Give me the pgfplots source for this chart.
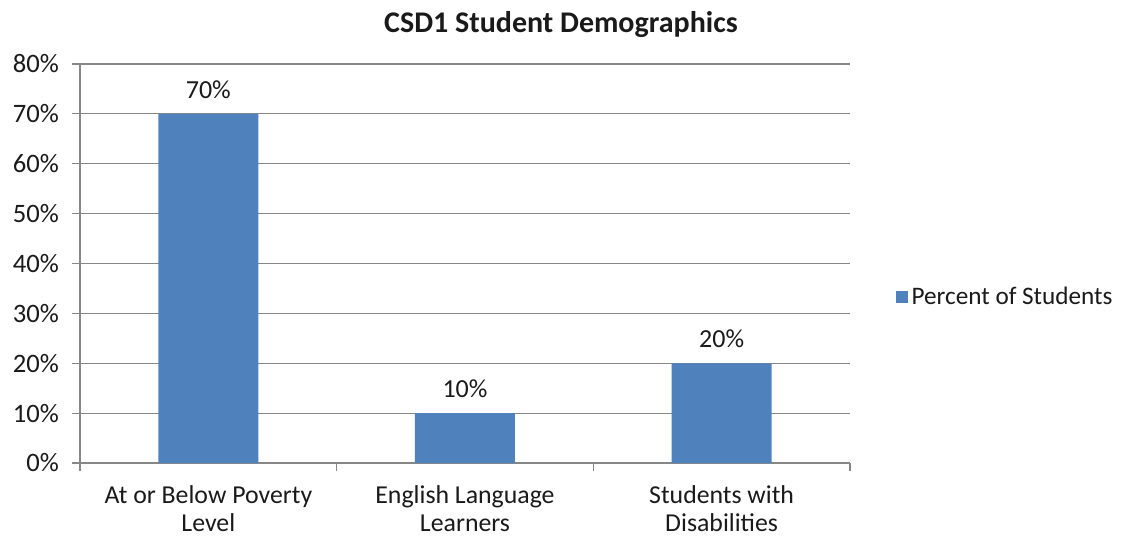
\documentclass[border=0pt]{standalone}
\usepackage{pgfplots}
\pgfplotsset{compat=1.18}
\usepackage{fontspec}
\setmainfont{Carlito}
\definecolor{barblue}{HTML}{4F81BD}
\definecolor{gridgray}{HTML}{878787}
\definecolor{txt}{HTML}{1A1A1A}
\begin{document}
\begin{tikzpicture}
\path[use as bounding box] (-40pt,-37pt) rectangle (525.5pt,231.5pt);
\begin{axis}[
  at={(0,0)}, anchor=south west,
  scale only axis,
  width=385pt, height=199.5pt,
  xmin=-0.5, xmax=2.5, ymin=0, ymax=80,
  ybar, bar width=50pt,
  axis x line*=bottom, axis y line*=left,
  axis line style={gridgray, line width=0.6pt},
  xtick={0,1,2},
  xticklabels={At or Below Poverty\\Level, English Language\\Learners, Students with\\Disabilities},
  xticklabel style={align=center, font=\fontsize{12.9}{14}\selectfont, text=txt, yshift=-4pt},
  minor xtick={-0.5,0.5,1.5,2.5},
  major x tick style={draw=none},
  minor x tick style={gridgray, line width=0.6pt},
  minor tick length=4pt,
  ytick={0,10,...,80},
  yticklabel={\pgfmathprintnumber{\tick}\%},
  yticklabel style={font=\fontsize{13.3}{15}\selectfont, text=txt, xshift=-3pt},
  /pgf/number format/assume math mode=true,
  ytick style={gridgray, line width=0.6pt},
  major tick length=4pt,
  tick align=outside,
  ymajorgrids, major grid style={gridgray, line width=0.6pt},
  nodes near coords={\pgfmathprintnumber{\pgfplotspointmeta}\%},
  nodes near coords style={font=\fontsize{13}{15}\selectfont, text=txt, yshift=4pt},
  legend style={at={(1.051,0.416)}, anchor=west, draw=none, fill=none,
    font=\fontsize{12.6}{14}\selectfont, text=txt},
  legend image code/.code={\fill[barblue] (0pt,-3pt) rectangle (6pt,3pt);},
  clip=false,
]
\addplot[fill=barblue, draw=none] coordinates {(0,70) (1,10) (2,20)};
\legend{Percent of Students}
\end{axis}
\node[font=\bfseries\fontsize{15}{17}\selectfont, text=txt] at (240.5pt,219pt) {CSD1 Student Demographics};
\end{tikzpicture}
\end{document}
